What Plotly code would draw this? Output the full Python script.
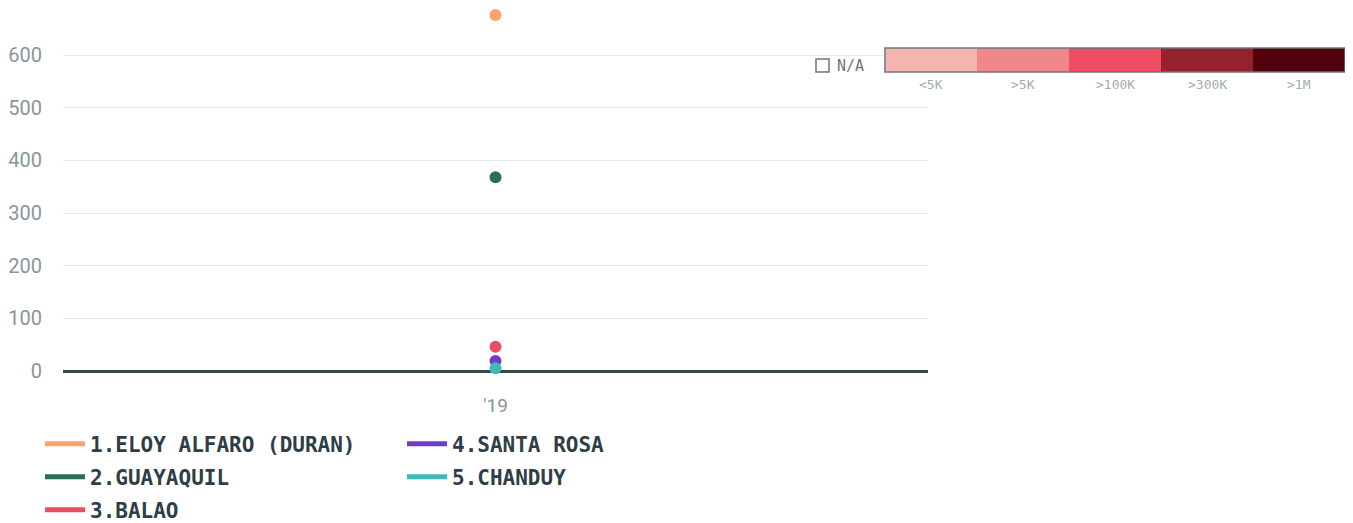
import plotly.graph_objects as go

categories = ["'19"]
series_names = ["1.ELOY ALFARO (DURAN)", "2.GUAYAQUIL", "3.BALAO", "4.SANTA ROSA", "5.CHANDUY"]
series_values = [[676], [368], [46], [19], [5]]
series_colors = ["#fba26f", "#2a6e58", "#ee4c63", "#6b3fc8", "#3fb8b8"]

scale_labels = ["<5K", ">5K", ">100K", ">300K", ">1M"]
scale_colors = ["#f4b6ae", "#f08788", "#ef4e62", "#95202e", "#52000c"]

# page offset (body margin) and figure geometry in figure pixels
O = 8
W, H = 1345, 515
L, R, T, B = 63 - O, 1353 - 928, 0, 523 - 371
pw, ph = W - L - R, H - T - B

def px(x):  # screenshot pixel -> paper x
    return (x - O - L) / pw

def py(y):  # screenshot pixel -> paper y
    return (H - B - (y - O)) / ph

fig = go.Figure()

for name, vals, col in zip(series_names, series_values, series_colors):
    fig.add_trace(go.Scatter(
        x=categories, y=vals, mode="markers", name=name,
        marker=dict(size=12, color=col, line=dict(width=0)),
        showlegend=False, cliponaxis=False,
    ))

# legend entries, each in its own legend box positioned in a 2-column grid
legend_pos = [(45, 444), (45, 477), (45, 510), (407, 444), (407, 477)]
legend_font = dict(family="DejaVu Sans Mono", size=21, color="#2f3e46", weight="bold")
layout_legends = {}
for i, (name, col) in enumerate(zip(series_names, series_colors)):
    key = "legend" if i == 0 else f"legend{i + 1}"
    fig.add_trace(go.Scatter(
        x=[None], y=[None], mode="lines", name=name,
        line=dict(color=col, width=5), showlegend=True, legend=key,
    ))
    lx, ly = legend_pos[i]
    layout_legends[key] = dict(x=px(lx - 5), xanchor="left", y=py(ly), yanchor="middle",
                               font=legend_font, itemwidth=40, bgcolor="rgba(0,0,0,0)",
                               borderwidth=0, tracegroupgap=0)

shapes = []
annotations = []
x0, x1 = 885, 1345
bw = (x1 - x0) / len(scale_colors)
for k, (lab, col) in enumerate(zip(scale_labels, scale_colors)):
    shapes.append(dict(type="rect", xref="paper", yref="paper",
                       x0=px(x0 + k * bw), x1=px(x0 + (k + 1) * bw),
                       y0=py(72), y1=py(48), fillcolor=col, line=dict(width=0)))
    annotations.append(dict(xref="paper", yref="paper", x=px(x0 + (k + 0.5) * bw), y=py(84),
                            text=lab, showarrow=False, xanchor="center", yanchor="middle",
                            font=dict(family="DejaVu Sans Mono", size=13, color="#a3abb0")))
shapes.append(dict(type="rect", xref="paper", yref="paper",
                   x0=px(x0), x1=px(x1), y0=py(72), y1=py(48),
                   fillcolor="rgba(0,0,0,0)", line=dict(color="#6c757d", width=1.5)))
shapes.append(dict(type="rect", xref="paper", yref="paper",
                   x0=px(816), x1=px(829), y0=py(72), y1=py(59),
                   fillcolor="white", line=dict(color="#6c757d", width=1.5)))
annotations.append(dict(xref="paper", yref="paper", x=px(835), y=py(66),
                        text="N/A", showarrow=False, xanchor="left", yanchor="middle",
                        font=dict(family="DejaVu Sans Mono", size=15, color="#6c757d")))

ymax = (371 - O) / (316 / 600)

fig.update_layout(
    width=W, height=H,
    margin=dict(l=L, r=R, t=T, b=B, autoexpand=False),
    paper_bgcolor="white", plot_bgcolor="white",
    showlegend=True,
    xaxis=dict(showgrid=False, showline=False, zeroline=False,
               ticks="outside", ticklen=17, tickcolor="rgba(0,0,0,0)",
               tickfont=dict(family="Roboto", size=19, color="#8a9499")),
    yaxis=dict(range=[0, ymax], tickvals=[0, 100, 200, 300, 400, 500, 600],
               showgrid=True, gridcolor="#e9e9e9", gridwidth=1,
               zeroline=True, zerolinecolor="#37474f", zerolinewidth=3,
               showline=False, ticks="outside", ticklen=16, tickcolor="rgba(0,0,0,0)",
               tickfont=dict(family="Roboto", size=20, color="#8a9499")),
    shapes=shapes, annotations=annotations,
    **layout_legends,
)

fig.write_html("out.html")
